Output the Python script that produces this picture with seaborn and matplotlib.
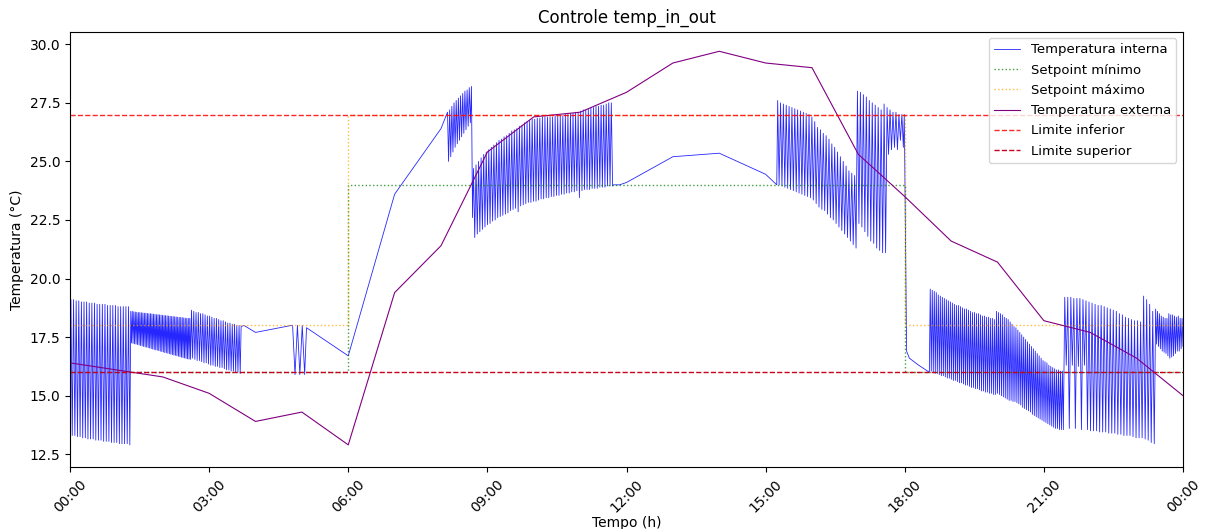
import numpy as np
import pandas as pd
import seaborn as sns
import matplotlib.pyplot as plt
import matplotlib.dates as mdates

# Temperatura externa (hora em hora)
horas_ext = list(range(0, 25))
temp_externa = [16.4, 16.1, 15.8, 15.1, 13.9, 14.3, 12.9, 19.4, 21.4, 25.4, 26.9, 27.1, 27.95,
                29.2, 29.7, 29.2, 29.0, 25.3, 23.5, 21.6, 20.7, 18.2, 17.7, 16.6, 15.0]

# Setpoints (degraus)
horas_sp = [0, 6, 6, 18, 18, 24]
sp_minimo = [16, 16, 24, 24, 16, 16]
sp_maximo = [18, 18, 27, 27, 18, 18]

limite_inferior = 27
limite_superior = 16

# Temperatura interna: trechos suaves + trechos de liga/desliga (picos e vales)
t_ini, v_ini = [0.0], [12.8]

picos_a = [19.1, 19.1, 19.05, 19.05, 19.0, 19.0, 19.0, 18.95, 18.95, 18.95, 18.9, 18.9, 18.9, 18.9,
           18.85, 18.85, 18.85, 18.85, 18.8, 18.8, 18.8, 18.8, 18.8]
vales_a = [13.3, 13.3, 13.25, 13.25, 13.2, 13.2, 13.15, 13.15, 13.15, 13.1, 13.1, 13.1, 13.05, 13.05,
           13.05, 13.0, 13.0, 13.0, 12.95, 12.95, 12.95, 12.95, 12.9]

picos_b = [18.6, 18.6, 18.58, 18.57, 18.56, 18.55, 18.55, 18.54, 18.53, 18.52, 18.52, 18.51, 18.5, 18.5,
           18.49, 18.48, 18.47, 18.46, 18.46, 18.45, 18.44, 18.43, 18.42, 18.42, 18.41, 18.4, 18.39,
           18.38, 18.38, 18.37, 18.36, 18.35, 18.34, 18.34, 18.33, 18.32, 18.31, 18.3, 18.3, 18.3]
vales_b = [17.25, 17.23, 17.21, 17.2, 17.18, 17.16, 17.14, 17.12, 17.1, 17.08, 17.07, 17.05, 17.03,
           17.01, 16.99, 16.97, 16.95, 16.94, 16.92, 16.9, 16.88, 16.86, 16.84, 16.83, 16.81, 16.79,
           16.77, 16.75, 16.73, 16.72, 16.7, 16.68, 16.66, 16.64, 16.62, 16.61, 16.59, 16.57, 16.56, 16.55]

picos_c = [18.65, 18.6, 18.55, 18.55, 18.5, 18.5, 18.45, 18.4, 18.4, 18.35, 18.3, 18.3, 18.25, 18.2,
           18.2, 18.15, 18.1, 18.1, 18.05, 18.05, 18.0, 18.0]
vales_c = [16.6, 16.55, 16.5, 16.5, 16.45, 16.4, 16.4, 16.35, 16.3, 16.3, 16.25, 16.25, 16.2, 16.2,
           16.15, 16.1, 16.1, 16.05, 16.05, 16.0, 16.0, 15.95]

t_cd, v_cd = [3.69, 3.75, 4.0, 4.78], [17.95, 18.0, 17.7, 18.0]

picos_d = [18.0, 18.0, 18.0]
vales_d = [15.9, 15.9, 15.9]

t_de, v_de = [5.1, 6.0, 7.0, 8.0, 8.12], [17.9, 16.7, 23.6, 26.4, 27.0]

picos_e = [27.1, 27.2, 27.35, 27.5, 27.6, 27.7, 27.8, 27.9, 28.0, 28.05, 28.15, 28.2]
vales_e = [25.0, 25.2, 25.4, 25.6, 25.75, 25.9, 26.05, 26.2, 26.35, 26.5, 26.65, 22.6]

picos_f = [24.7, 24.85, 25.0, 25.15, 25.3, 25.4, 25.5, 25.6, 25.7, 25.8,
           25.9, 25.95, 26.05, 26.1, 26.2, 26.3, 26.35, 26.4, 26.5, 26.55,
           26.65, 26.7, 26.75, 26.8, 26.8, 26.85, 26.85, 26.9, 26.9, 26.9,
           26.9, 26.9, 26.95, 26.95, 26.95, 26.95, 27.0, 27.0, 27.05, 27.05,
           27.1, 27.1, 27.15, 27.2, 27.2, 27.25, 27.3, 27.3, 27.35, 27.35,
           27.4, 27.4, 27.45, 27.5, 27.5]
vales_f = [21.75, 21.9, 22.0, 22.1, 22.2, 22.3, 22.35, 22.45, 22.5, 22.6,
           22.65, 22.7, 22.75, 22.8, 22.9, 22.95, 23.0, 22.85, 23.1, 23.15,
           23.2, 23.25, 23.25, 23.3, 23.3, 23.35, 23.4, 23.4, 23.45, 23.45,
           23.5, 23.5, 23.55, 23.55, 23.6, 23.6, 23.65, 23.65, 23.7, 23.7,
           23.75, 23.45, 23.75, 23.8, 23.8, 23.8, 23.85, 23.85, 23.85, 23.9,
           23.9, 23.9, 23.95, 23.95, 23.95]

t_fg, v_fg = [11.72, 11.85, 12.0, 13.0, 14.0, 15.0, 15.24], [24.0, 24.0, 24.1, 25.2, 25.35, 24.45, 24.0]

picos_g = [27.6, 27.5, 27.45, 27.4, 27.35, 27.3, 27.25, 27.2, 27.15, 27.1, 27.05, 27.0, 26.9, 26.7,
           26.45, 26.35, 26.2, 26.1, 25.95, 25.75, 25.6, 25.4, 25.2, 25.0, 24.8, 24.6, 24.5, 24.4]
vales_g = [24.0, 23.95, 23.9, 23.85, 23.8, 23.75, 23.7, 23.65, 23.6, 23.55, 23.5, 23.45, 23.35, 23.2,
           23.05, 22.95, 22.9, 22.75, 22.6, 22.5, 22.35, 22.2, 22.05, 21.9, 21.75, 21.6, 21.45, 21.3]

picos_h = [28.0, 27.95, 27.85, 27.75, 27.6, 27.5, 27.4, 27.3, 27.2, 27.45, 27.3, 27.2, 27.1, 27.1, 27.0, 27.0]
vales_h = [22.35, 22.2, 22.0, 21.8, 21.6, 21.5, 21.3, 21.2, 21.1, 21.1, 25.3, 25.5, 25.6, 25.5, 25.9, 25.6]

t_hi, v_hi = [17.99, 18.04, 18.1, 18.3, 18.53], [27.0, 16.9, 16.6, 16.3, 16.0]

picos_i = [19.55, 19.5, 19.45, 19.4, 19.3, 19.25, 19.2, 19.15, 19.1, 19.05,
           19.0, 18.95, 18.9, 18.85, 18.85, 18.8, 18.75, 18.7, 18.7, 18.65,
           18.6, 18.55, 18.55, 18.5, 18.5, 18.45, 18.4, 18.4, 18.35, 18.35,
           18.3, 18.3, 18.25]
vales_i = [16.05, 16.0, 15.95, 15.95, 15.9, 15.85, 15.85, 15.8, 15.75, 15.75,
           15.7, 15.65, 15.65, 15.6, 15.55, 15.55, 15.5, 15.45, 15.45, 15.4,
           15.35, 15.35, 15.3, 15.3, 15.25, 15.2, 15.2, 15.15, 15.15, 15.1,
           15.1, 15.05, 15.05]

picos_j = [18.6, 18.55, 18.5, 18.45, 18.35, 18.3, 18.25, 18.15, 18.05, 17.95,
           17.9, 17.8, 17.7, 17.6, 17.5, 17.4, 17.3, 17.2, 17.1, 17.0,
           16.9, 16.8, 16.7, 16.6, 16.5, 16.45, 16.4, 16.3, 16.25, 16.2,
           16.15, 16.1, 16.1, 16.05, 16.05]
vales_j = [15.1, 15.05, 15.0, 14.95, 14.9, 14.85, 14.8, 14.8, 14.75, 14.75,
           14.7, 14.65, 14.6, 14.5, 14.45, 14.4, 14.35, 14.3, 14.2, 14.15,
           14.1, 14.05, 14.0, 13.95, 13.9, 13.85, 13.8, 13.75, 13.7, 13.65,
           13.6, 13.6, 13.55, 13.55, 13.55]

picos_k = [19.2, 19.2, 19.2, 19.15, 19.15, 19.15, 19.1, 19.05, 19.0, 18.95,
           18.9, 18.85, 18.85, 18.8, 18.75, 18.7, 18.65, 18.6, 18.5, 18.45,
           18.35, 18.3, 18.25, 18.2, 18.2, 18.15, 19.25, 19.1, 18.9, 18.6]
vales_k = [16.3, 13.6, 16.3, 13.6, 16.25, 13.55, 16.3, 13.55, 13.5, 13.5,
           13.5, 13.45, 13.45, 13.45, 13.4, 13.4, 13.4, 13.35, 13.35, 13.3,
           13.3, 13.3, 13.25, 13.2, 13.2, 13.2, 13.15, 13.1, 13.0, 12.95]

picos_l = [18.7, 18.6, 18.5, 18.4, 18.35, 18.3, 18.3, 18.5, 18.45, 18.45, 18.4, 18.35, 18.4, 18.3, 18.3]
vales_l = [17.2, 17.1, 17.0, 16.9, 16.85, 16.8, 16.7, 16.6, 16.65, 16.7, 16.8, 16.9, 16.9, 17.0, 17.1]


def ciclos(inicio, fim, picos, vales):
    t = np.linspace(inicio, fim, 2 * len(picos))
    v = np.empty(2 * len(picos))
    v[0::2] = picos
    v[1::2] = vales
    return list(t), list(v)


trechos = [
    (t_ini, v_ini),
    ciclos(0.02, 1.29, picos_a, vales_a),
    ciclos(1.31, 2.60, picos_b, vales_b),
    ciclos(2.62, 3.67, picos_c, vales_c),
    (t_cd, v_cd),
    ciclos(4.80, 5.06, picos_d, vales_d),
    (t_de, v_de),
    ciclos(8.14, 8.68, picos_e, vales_e),
    ciclos(8.70, 11.70, picos_f, vales_f),
    (t_fg, v_fg),
    ciclos(15.26, 16.95, picos_g, vales_g),
    ciclos(16.98, 17.97, picos_h, vales_h),
    (t_hi, v_hi),
    ciclos(18.55, 19.96, picos_i, vales_i),
    ciclos(19.98, 21.42, picos_j, vales_j),
    ciclos(21.45, 23.38, picos_k, vales_k),
    ciclos(23.41, 24.0, picos_l, vales_l),
]
horas_int = sum([t for t, _ in trechos], [])
temp_interna = sum([v for _, v in trechos], [])

base = pd.Timestamp("2024-01-01")
def para_data(h):
    return base + pd.to_timedelta(np.asarray(h, dtype=float), unit="h")

fig = plt.figure(figsize=(12.05, 5.29), dpi=100)
ax = fig.add_axes([70 / 1205, 62 / 529, 1113 / 1205, 435.5 / 529])

sns.lineplot(x=para_data(horas_int), y=temp_interna, sort=False, estimator=None,
             color="blue", linewidth=0.6, alpha=0.85, label="Temperatura interna", ax=ax)
sns.lineplot(x=para_data(horas_sp), y=sp_minimo, sort=False, estimator=None,
             color="green", linestyle=":", linewidth=1.0, alpha=0.75, label="Setpoint mínimo", ax=ax)
sns.lineplot(x=para_data(horas_sp), y=sp_maximo, sort=False, estimator=None,
             color="orange", linestyle=":", linewidth=1.0, alpha=0.75, label="Setpoint máximo", ax=ax)
sns.lineplot(x=para_data(horas_ext), y=temp_externa, sort=False, estimator=None,
             color="purple", linewidth=0.8, label="Temperatura externa", ax=ax)
ax.axhline(limite_inferior, color="red", linestyle="--", linewidth=1, alpha=0.85, label="Limite inferior")
ax.axhline(limite_superior, color="#c8001e", linestyle="--", linewidth=1, label="Limite superior")

ax.set_xlim(base, base + pd.Timedelta(hours=24))
ax.xaxis.set_major_locator(mdates.HourLocator(byhour=range(0, 24, 3)))
ax.xaxis.set_major_formatter(mdates.DateFormatter("%H:%M"))
plt.setp(ax.get_xticklabels(), rotation=45)

ax.set_title("Controle temp_in_out")
ax.set_xlabel("Tempo (h)", labelpad=1)
ax.set_ylabel("Temperatura (°C)")
ax.legend(loc="upper right", fontsize=9.5, labelspacing=0.55)

fig.savefig("out.png", dpi=100)
